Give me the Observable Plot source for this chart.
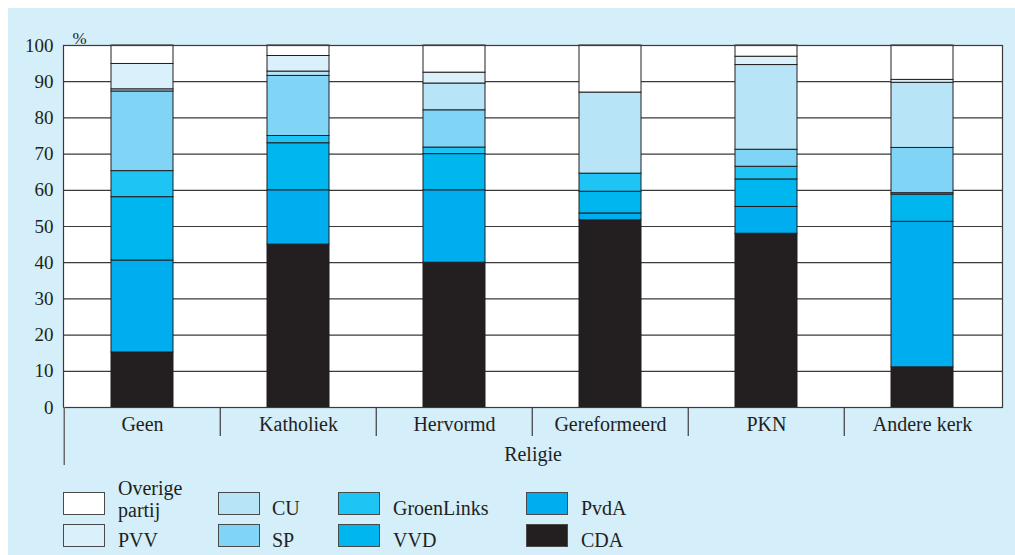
<!DOCTYPE html>
<html>
<head>
<meta charset="utf-8">
<script src="https://cdn.jsdelivr.net/npm/d3@7"></script>
<script src="https://cdn.jsdelivr.net/npm/@observablehq/plot@0.6"></script>
<style>
  html, body { margin: 0; padding: 0; background: #ffffff; width: 1015px; height: 555px; overflow: hidden; }
  #panel { position: absolute; left: 8px; top: 8px; width: 1007px; height: 547px; background: #d4eefa;
           font-family: "Liberation Serif", serif; color: #231f20; }
  #chart { position: absolute; left: 0; top: 0; }
  .sw { position: absolute; width: 40px; height: 21px; border: 1px solid #4a4a4a; }
  .lab { position: absolute; font-size: 20px; line-height: 22px; white-space: normal; }
</style>
</head>
<body>
<div id="panel"><div id="chart"></div><div id="legend"></div></div>
<script>
const categories = ["Geen", "Katholiek", "Hervormd", "Gereformeerd", "PKN", "Andere kerk"];
const parties = ["CDA", "PvdA", "VVD", "GroenLinks", "SP", "CU", "PVV", "Overige partij"];
const colors = ["#231f20", "#00aeef", "#00b6ef", "#1ec4f4", "#80d4f6", "#b8e4f8", "#daf1fc", "#ffffff"];
const cda        = [15.2, 45.0, 40.0, 51.7, 48.0, 11.1];
const pvda       = [25.4, 15.0, 20.0,  1.9,  7.4, 40.2];
const vvd        = [17.5, 13.0, 10.0,  6.0,  7.6,  7.5];
const groenlinks = [ 7.2,  2.0,  1.8,  5.0,  3.5,  0.4];
const sp         = [22.0, 16.6, 10.3,  0.0,  4.7, 12.5];
const cu         = [ 0.6,  1.2,  7.4, 22.4, 23.4, 18.0];
const pvv        = [ 7.0,  4.3,  3.0,  0.0,  2.3,  0.8];
const overige    = [ 5.1,  2.9,  7.5, 13.0,  3.1,  9.5];
const yTicks = [0, 10, 20, 30, 40, 50, 60, 70, 80, 90, 100];
const xLabel = "Religie";
const yUnit = "%";

const series = [cda, pvda, vvd, groenlinks, sp, cu, pvv, overige];
const rows = [];
categories.forEach((c, i) => {
  parties.forEach((p, j) => {
    if (series[j][i] > 0) rows.push({religie: c, partij: p, waarde: series[j][i]});
  });
});

const W = 1007, H = 470;
const mL = 55, mR = 13, mT = 37, mB = 71;
const step = (W - mL - mR) / categories.length;
const font = "Liberation Serif, serif";

const chart = Plot.plot({
  width: W, height: H,
  marginLeft: mL, marginRight: mR, marginTop: mT, marginBottom: mB,
  style: {background: "transparent", fontFamily: font, fontSize: "19px", color: "#231f20"},
  x: {domain: categories, paddingInner: 0.6, paddingOuter: 0.3, label: null},
  y: {domain: [0, 100], label: null},
  color: {domain: parties, range: colors},
  marks: [
    Plot.frame({fill: "white", stroke: "none"}),
    Plot.ruleY(yTicks, {stroke: "#3a3a3a", strokeWidth: 1.2}),
    Plot.barY(rows, {x: "religie", y: "waarde", fill: "partij", stroke: "#231f20", strokeWidth: 1}),
    Plot.frame({stroke: "#3a3a3a", strokeWidth: 1.2}),
    Plot.ruleX(categories.slice(1), {x: d => d, dx: -step / 2, y1: 0, y2: -8, stroke: "#3a3a3a", strokeWidth: 1.2}),
    Plot.ruleX(categories.slice(0, 1), {x: d => d, dx: -step / 2, y1: 0, y2: -16, stroke: "#6a6a6a", strokeWidth: 1.5}),
    Plot.axisY(yTicks, {tickSize: 0, tickPadding: 10, fontSize: 19, fill: "#231f20", label: null}),
    Plot.axisX({tickSize: 0, tickPadding: 9, fontSize: 20, fill: "#231f20", label: null}),
    Plot.text([xLabel], {frameAnchor: "bottom", dy: 53, fontSize: 20, fill: "#231f20"}),
    Plot.text([yUnit], {frameAnchor: "top-left", dx: 9, dy: -14, fontSize: 17, fill: "#231f20"})
  ]
});
document.getElementById("chart").appendChild(chart);

// legend: reverse stack order, column-major, 2 rows
const legend = document.getElementById("legend");
const colX = [55, 210, 330, 518];
const textX = [110, 264, 385, 573];
const rowY = [484, 516];
const order = parties.map((p, i) => i).reverse();
order.forEach((idx, k) => {
  const col = Math.floor(k / 2), row = k % 2;
  const sw = document.createElement("div");
  sw.className = "sw";
  sw.style.left = colX[col] + "px";
  sw.style.top = rowY[row] + "px";
  sw.style.background = colors[idx];
  legend.appendChild(sw);
  const lab = document.createElement("div");
  lab.className = "lab";
  lab.textContent = parties[idx];
  lab.style.left = textX[col] + "px";
  if (parties[idx] === "Overige partij") {
    lab.style.width = "70px";
    lab.style.top = (rowY[row] - 15) + "px";
  } else {
    lab.style.top = (rowY[row] + 5) + "px";
  }
  legend.appendChild(lab);
});
</script>
</body>
</html>
